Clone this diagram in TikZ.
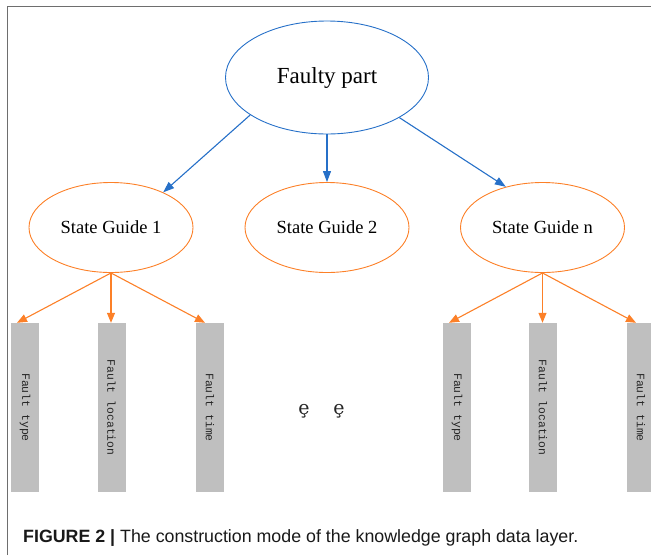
\documentclass[tikz,border=0pt]{standalone}
\usepackage{fontspec}
\setmainfont{Liberation Serif}
\newfontfamily\capfont{Liberation Sans}
\newfontfamily\barfont{Liberation Mono}
\newfontfamily\markfont{DejaVu Serif}
\usetikzlibrary{arrows.meta,shapes.geometric}
\definecolor{edgeblue}{RGB}{38,112,200}
\definecolor{edgeorange}{RGB}{252,128,40}
\definecolor{bargray}{RGB}{191,191,191}
\definecolor{framegray}{RGB}{110,110,110}
\begin{document}
\begin{tikzpicture}[x=1pt,y=-1pt,
  partnode/.style={ellipse, draw=edgeblue, line width=0.9pt, minimum width=203pt,
    minimum height=113pt, inner sep=0pt, font=\fontsize{23}{23}\selectfont},
  guidenode/.style={ellipse, draw=edgeorange, line width=0.9pt, minimum width=164pt,
    minimum height=90pt, inner sep=0pt, font=\fontsize{18.5}{18.5}\selectfont},
  fieldbar/.style={rectangle, fill=bargray, minimum width=28pt, minimum height=169pt,
    inner sep=0pt},
  fieldtext/.style={rotate=-90, inner sep=0pt, text=black!85,
    font=\barfont\fontsize{11.4}{11.4}\selectfont},
  bluearrow/.style={draw=edgeblue, line width=1.1pt,
    -{Triangle[length=11pt,width=8pt]}},
  orangearrow/.style={draw=edgeorange, line width=1.1pt,
    -{Triangle[length=10pt,width=8pt]}},
  gapmark/.style={inner sep=0pt, text=black!85, font=\markfont\fontsize{19}{19}\selectfont},
  captext/.style={anchor=base west, inner sep=0pt, text=black!90,
    font=\capfont\fontsize{17.8}{17.8}\selectfont}
]
\useasboundingbox (0,0) rectangle (651,555);
\clip (0,0) rectangle (651,555);

% frame lines
\draw[framegray, line width=1pt] (7,555) -- (7,6) -- (651,6);

% root and guide nodes
\node[partnode] (top) at (327,77.5) {Faulty part};
\node[guidenode] (g1) at (111,227.5) {State Guide 1};
\node[guidenode] (g2) at (327,227.5) {State Guide 2};
\node[guidenode] (gn) at (542.5,227.5) {State Guide n};

% field bars, left group
\node[fieldbar] (b1) at (25,407.5) {};
\node[fieldbar] (b2) at (111.5,407.5) {};
\node[fieldbar] (b3) at (210,407.5) {};
% field bars, right group
\node[fieldbar] (b4) at (457,407.5) {};
\node[fieldbar] (b5) at (543,407.5) {};
\node[fieldbar] (b6) at (641,407.5) {};

\node[fieldtext] at (b1) {Fault type};
\node[fieldtext] at (b2) {Fault location};
\node[fieldtext] at (b3) {Fault time};
\node[fieldtext] at (b4) {Fault type};
\node[fieldtext] at (b5) {Fault location};
\node[fieldtext] at (b6) {Fault time};

% elision marks
\node[gapmark] (m1) at (304,411) {ȩ};
\node[gapmark] (m2) at (339,411) {ȩ};

% blue connectors
\draw[bluearrow] (top.206) -- (g1.34);
\draw[bluearrow] (top.south) -- (g2.north);
\draw[bluearrow] (top.331) -- (gn.132);

% orange connectors
\draw[orangearrow] (g1.south) -- ([xshift=-8pt]b1.north);
\draw[orangearrow] (g1.south) -- (g1.south |- b2.north);
\draw[orangearrow] (g1.south) -- ([xshift=-5pt]b3.north);
\draw[orangearrow] (gn.south) -- ([xshift=-8pt]b4.north);
\draw[orangearrow] (gn.south) -- (gn.south |- b5.north);
\draw[orangearrow] (gn.south) -- ([xshift=-5pt]b6.north);

% caption
\node[captext] (cap) at (23,542.7) {\textbf{FIGURE 2 |} The construction mode of the knowledge graph data layer.};
\end{tikzpicture}
\end{document}
